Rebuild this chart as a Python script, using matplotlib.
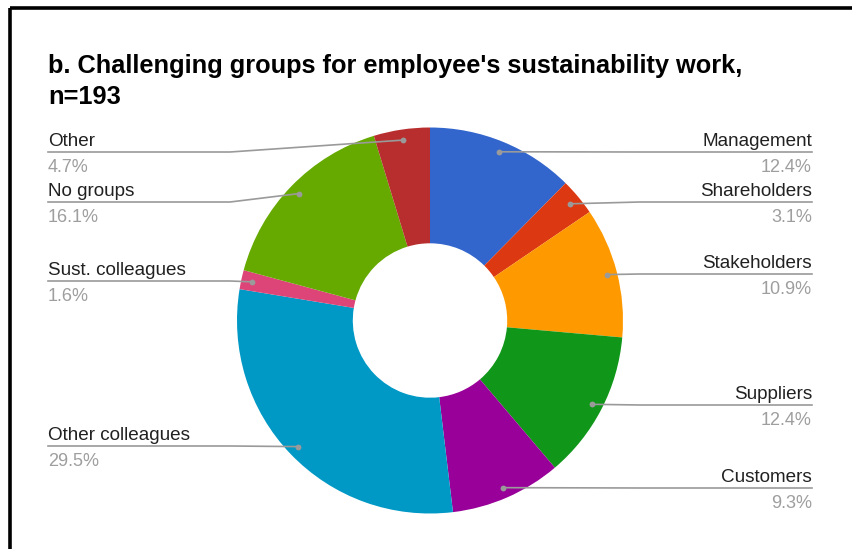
import numpy as np
import matplotlib
matplotlib.use("Agg")
import matplotlib.pyplot as plt

# Share of respondents naming each group as challenging (n=193), clockwise from 12 o'clock
categories = ["Management", "Shareholders", "Stakeholders", "Suppliers", "Customers",
              "Other colleagues", "Sust. colleagues", "No groups", "Other"]
shares = [12.4, 3.1, 10.9, 12.4, 9.3, 29.5, 1.6, 16.1, 4.7]
colors = ["#3366CC", "#DC3912", "#FF9900", "#109618", "#990099",
          "#0099C6", "#DD4477", "#66AA00", "#B82E2E"]
title_lines = ["b. Challenging groups for employee's sustainability work,", "n=193"]

W, H = 852, 549
plt.rcParams["font.family"] = ["Liberation Sans", "DejaVu Sans"]

fig = plt.figure(figsize=(W / 100, H / 100), dpi=100)
ax = fig.add_axes([0, 0, 1, 1])

# layout in pixel units (y measured from the top edge)
cx, cy, R = 430, 320.5, 193
hole = 0.40
dot_r = 0.945

ax.pie(shares, colors=colors, startangle=90, counterclock=False,
       radius=R, center=(cx, H - cy),
       wedgeprops=dict(width=R * (1 - hole), edgecolor="none", linewidth=0),
       frame=True)
ax.set_xlim(0, W)
ax.set_ylim(0, H)
ax.set_aspect("equal")
ax.set_axis_off()

# outer frame (top and left edges)
ax.plot([10, W], [H - 8, H - 8], color="black", lw=2.6, solid_capstyle="butt")
ax.plot([10, 10], [H - 8, 0], color="black", lw=2.6, solid_capstyle="butt")

for line, base in zip(title_lines, [73, 104]):
    ax.text(48, H - base, line, fontsize=18.3, fontweight="bold", color="black",
            va="baseline", ha="left")

# label placement: side, line y (from top), elbow x
label_layout = {
    "Management": ("right", 152, 640),
    "Shareholders": ("right", 202, 640),
    "Stakeholders": ("right", 274, 640),
    "Suppliers": ("right", 405, 640),
    "Customers": ("right", 488, 640),
    "Other colleagues": ("left", 446, 230),
    "Sust. colleagues": ("left", 281, 230),
    "No groups": ("left", 202, 230),
    "Other": ("left", 152, 230),
}
left_x, right_x = 48, 812
line_col = "#9a9a9a"

total = sum(shares)
cum = np.cumsum([0] + shares[:-1])
for name, v, c0 in zip(categories, shares, cum):
    mid = np.deg2rad(90 - 360 * (c0 + v / 2) / total)
    dx = cx + dot_r * R * np.cos(mid)
    dy = (H - cy) + dot_r * R * np.sin(mid)
    side, ly, ex = label_layout[name]
    ly = H - ly
    if side == "left":
        ex = min(ex, dx)
        ax.plot([left_x, ex, dx], [ly, ly, dy], color=line_col, lw=1.2,
                solid_joinstyle="round")
        tx, ha = left_x, "left"
    else:
        ex = max(ex, dx)
        ax.plot([right_x, ex, dx], [ly, ly, dy], color=line_col, lw=1.2,
                solid_joinstyle="round")
        tx, ha = right_x, "right"
    ax.plot(dx, dy, "o", color=line_col, ms=4.2, mec="none")
    ax.text(tx, ly + 6, name, fontsize=13.6, color="#212121", ha=ha, va="baseline")
    ax.text(tx, ly - 20, f"{v:.1f}%", fontsize=13.0, color="#9e9e9e", ha=ha, va="baseline")

fig.savefig("out.png", dpi=100, facecolor="white")
